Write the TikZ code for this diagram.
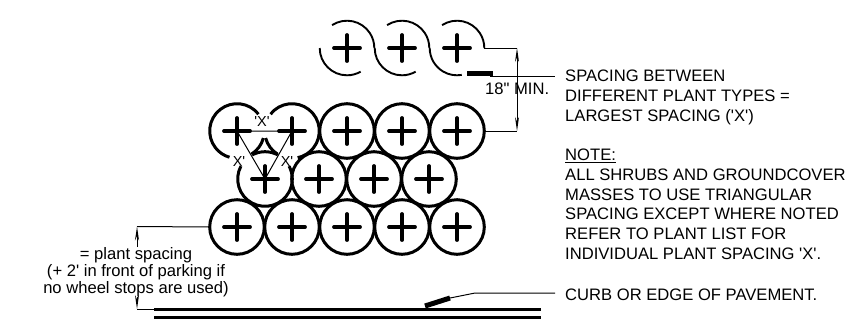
\documentclass[tikz,border=0pt]{standalone}
\usepackage{fontspec}
\setmainfont{Liberation Sans}[Ligatures=TeXOff]
\usetikzlibrary{arrows.meta}
\tikzset{
  plantline/.style={line width=3pt},
  plantcirc/.style={circle,draw,line width=3pt,minimum size=54.6pt,inner sep=0pt,outer sep=0pt},
  plantopen/.style={circle,minimum size=54.6pt,inner sep=0pt,outer sep=0pt},
  plantarc/.style={line width=1.9pt},
  crossmark/.style={line width=3.8pt,line cap=round},
  thinline/.style={line width=1pt},
  dimarrow/.style={line width=0.9pt,-{Stealth[length=14pt,width=4pt,open]}},
  curb/.style={line width=3pt},
  barline/.style={line width=5pt},
  txt/.style={font=\fontsize{16.6}{19.9}\selectfont,align=left,anchor=north west,inner sep=0pt},
  dtxt/.style={font=\fontsize{16.6}{17}\selectfont,align=center,inner sep=0pt},
  xtxt/.style={font=\fontsize{14.5}{13}\selectfont,inner sep=0pt},
}
\newcommand{\crossat}[1]{\draw[crossmark] ([xshift=-13pt]#1.center) -- ([xshift=13pt]#1.center) ([yshift=-13pt]#1.center) -- ([yshift=13pt]#1.center);}
\newcommand{\arcon}[4][plantline]{\draw[#1] ([shift={(#3:27.3pt)}]#2.center) arc[start angle=#3,end angle=#4,radius=27.3pt];}
\begin{document}
\begin{tikzpicture}[x=1pt,y=-1pt]
\useasboundingbox (0,0) rectangle (864,325);
% top partial row
\node[plantopen] (t1) at (347,48) {};
\node[plantopen] (t2) at (402,48) {};
\node[plantopen] (t3) at (457,48) {};
\foreach \n in {t1,t2,t3}{
  \crossat{\n}
  \arcon[plantarc]{\n}{123}{0}
}
\arcon[plantarc]{t1}{180}{300}
\arcon[plantarc]{t2}{180}{300}
\arcon[plantarc]{t3}{180}{280}
% top row
\node[plantopen] (a1) at (237,131) {};
\node[plantopen] (a2) at (292,131) {};
\node[plantcirc] (a3) at (347,131) {};
\node[plantcirc] (a4) at (402,131) {};
\node[plantcirc] (a5) at (457,131) {};
% middle row
\node[plantopen] (m1) at (265,179) {};
\node[plantcirc] (m2) at (319,179) {};
\node[plantcirc] (m3) at (374,179) {};
\node[plantcirc] (m4) at (429,179) {};
% bottom row
\node[plantcirc] (b1) at (237,227) {};
\node[plantcirc] (b2) at (292,227) {};
\node[plantcirc] (b3) at (347,227) {};
\node[plantcirc] (b4) at (402,227) {};
\node[plantcirc] (b5) at (457,227) {};
\foreach \n in {a1,a2,a3,a4,a5,m1,m2,m3,m4,b1,b2,b3,b4,b5}{\crossat{\n}}
% broken circles round the X labels
\arcon{a1}{38}{254}
\arcon{a1}{-15}{-58}
\arcon{a2}{142}{-78}
\arcon{a2}{195}{238}
\arcon{m1}{152}{388}
\arcon{m1}{118}{62}
% triangle
\draw[thinline] (a1.center) -- (a2.center) -- (m1.center) -- (a1.center);
\node[xtxt] (xa) at (262,122) {'X'};
\node[xtxt] (xb) at (239,162) {X'};
\node[xtxt] (xc) at (287,162) {X'};
% dimension 18 in
\coordinate (topend) at (t3.east);
\coordinate (rowend) at (a5.east);
\coordinate (dimtop) at (517,48);
\coordinate (dimbot) at (517,131);
\draw[thinline] (topend) -- (dimtop);
\draw[thinline] (rowend) -- (dimbot);
\draw[dimarrow] (517,90) -- (dimtop);
\draw[dimarrow] (517,90) -- (dimbot);
\node[dtxt,anchor=west] (mintxt) at (485,89) {18" MIN.};
% leader to spacing note
\coordinate (barl) at (467,73);
\coordinate (barr) at (493,73);
\coordinate (leadend) at (555,76);
\draw[barline] (barl) -- (barr);
\draw[thinline] (490,76) -- (leadend);
% notes
\node[txt] (n1) at (565,70) {SPACING BETWEEN\\DIFFERENT PLANT TYPES =\\LARGEST SPACING ('X')};
\node[txt] (n2) at (565,148.5) {\underline{NOTE:}\\ALL SHRUBS AND GROUNDCOVER\\MASSES TO USE TRIANGULAR\\SPACING EXCEPT WHERE NOTED\\REFER TO PLANT LIST FOR\\INDIVIDUAL PLANT SPACING 'X'.};
\node[txt] (n3) at (565,288.5) {CURB OR EDGE OF PAVEMENT.};
% left dimension
\coordinate (ltop) at (137,226.5);
\coordinate (lbot) at (137,309);
\draw[thinline] (ltop) -- (b1.west);
\draw[dimarrow] (137,247) -- (ltop);
\draw[dimarrow] (137,297) -- (lbot);
\draw[thinline] (lbot) -- (154,309);
\node[dtxt] (ldim) at (136,272) {= plant spacing\\(+ 2' in front of parking if\\no wheel stops are used)};
% curb
\coordinate (c1l) at (154,309.5);
\coordinate (c1r) at (541,309.5);
\coordinate (c2l) at (154,317);
\coordinate (c2r) at (541,317);
\draw[curb] (c1l) -- (c1r);
\draw[curb] (c2l) -- (c2r);
\coordinate (cb1) at (425,306);
\coordinate (cb2) at (450,298);
\coordinate (cb3) at (475,293);
\coordinate (cb4) at (555,293);
\draw[barline] (cb1) -- (cb2);
\draw[thinline] (cb2) -- (cb3) -- (cb4);
\end{tikzpicture}
\end{document}
